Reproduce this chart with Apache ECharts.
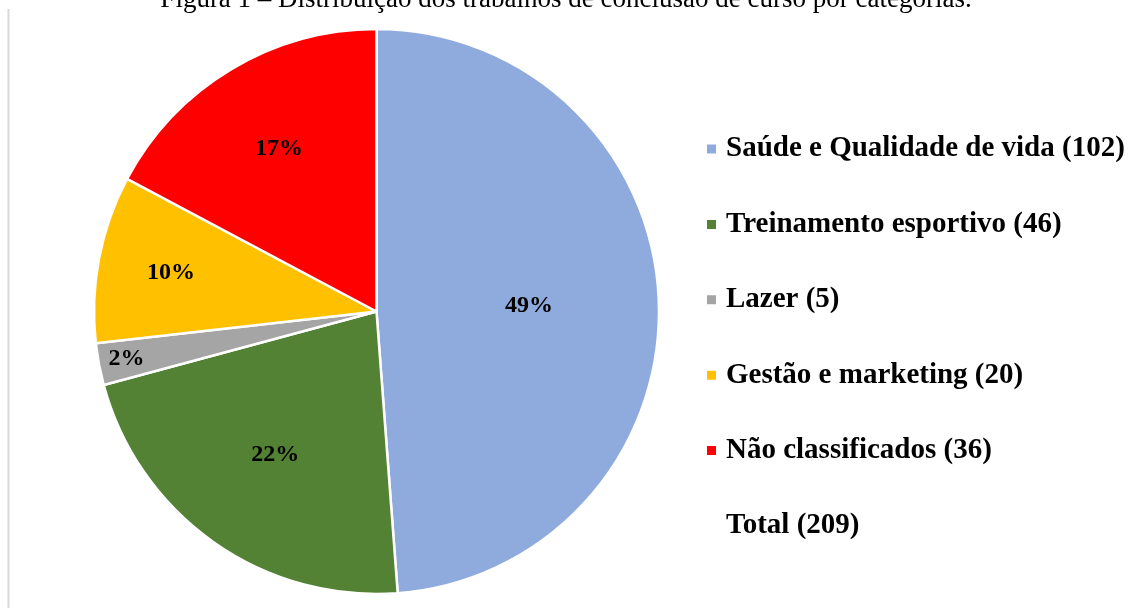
<!DOCTYPE html>
<html><head><meta charset="utf-8">
<script src="https://cdn.jsdelivr.net/npm/echarts@6/dist/echarts.min.js"></script>
<style>html,body{margin:0;padding:0;background:#fff}#c{width:1132px;height:608px}</style>
</head><body><div id="c"></div>
<script>
const categories = ['Saúde e Qualidade de vida', 'Treinamento esportivo', 'Lazer', 'Gestão e marketing', 'Não classificados'];
const values = [102, 46, 5, 20, 36];
const colors = ['#8FAADC', '#548235', '#A5A5A5', '#FFC000', '#FF0000'];
const labelRadius = [0.53, 0.61, 0.89, 0.73, 0.66]; // label distance as fraction of pie radius
const totalLabel = 'Total';
const total = values.reduce((a, b) => a + b, 0);

const R = 282.5;
const center = [376.5, 311.5];
const font = '"Liberation Serif", "Times New Roman", serif';

const series = [{
  type: 'pie',
  center: center,
  radius: [0, R],
  startAngle: 90,
  clockwise: true,
  silent: true,
  label: { show: false },
  labelLine: { show: false },
  itemStyle: { borderColor: '#fff', borderWidth: 2.5 },
  data: categories.map((c, i) => ({ name: c, value: values[i], itemStyle: { color: colors[i] } }))
    .concat([{ name: totalLabel, value: 0, itemStyle: { color: 'rgba(0,0,0,0)', borderWidth: 0 } }])
}];

// transparent overlay pies used only to position the percentage labels
categories.forEach((c, k) => {
  series.push({
    type: 'pie',
    center: center,
    radius: [0, 2 * labelRadius[k] * R],
    startAngle: 90,
    clockwise: true,
    silent: true,
    legendHoverLink: false,
    labelLine: { show: false },
    itemStyle: { color: 'rgba(0,0,0,0)', borderWidth: 0 },
    data: categories.map((cc, i) => ({
      name: cc, value: values[i],
      itemStyle: { color: 'rgba(0,0,0,0)' },
      label: {
        show: i === k, position: 'inside',
        formatter: () => Math.round(values[i] / total * 100) + '%',
        fontFamily: font, fontWeight: 'bold', fontSize: 24, color: '#000'
      }
    }))
  });
});

const chart = echarts.init(document.getElementById('c'), null, { renderer: 'canvas' });
chart.setOption({
  animation: false,
  backgroundColor: '#fff',
  title: {
    text: 'Figura 1 – Distribuição dos trabalhos de conclusão de curso por categorias.',
    left: 'center', top: -19,
    textStyle: { fontFamily: font, fontWeight: 'normal', fontSize: 27, color: '#000' }
  },
  legend: {
    orient: 'vertical',
    left: 700, top: 129,
    itemWidth: 11, itemHeight: 11,
    itemGap: 45.4,
    selectedMode: false,
    icon: 'rect',
    data: categories.map(c => ({ name: c })).concat([{ name: totalLabel, icon: 'none' }]),
    formatter: n => {
      const i = categories.indexOf(n);
      return n + ' (' + (i >= 0 ? values[i] : total) + ')';
    },
    textStyle: { fontFamily: font, fontWeight: 'bold', fontSize: 29, color: '#000', lineHeight: 30, padding: [0, 0, 0, 4] }
  },
  graphic: [{
    type: 'line', shape: { x1: 8.5, y1: 9, x2: 8.5, y2: 608 },
    style: { stroke: '#d9d9d9', lineWidth: 2 }
  }],
  series: series
});
</script></body></html>
